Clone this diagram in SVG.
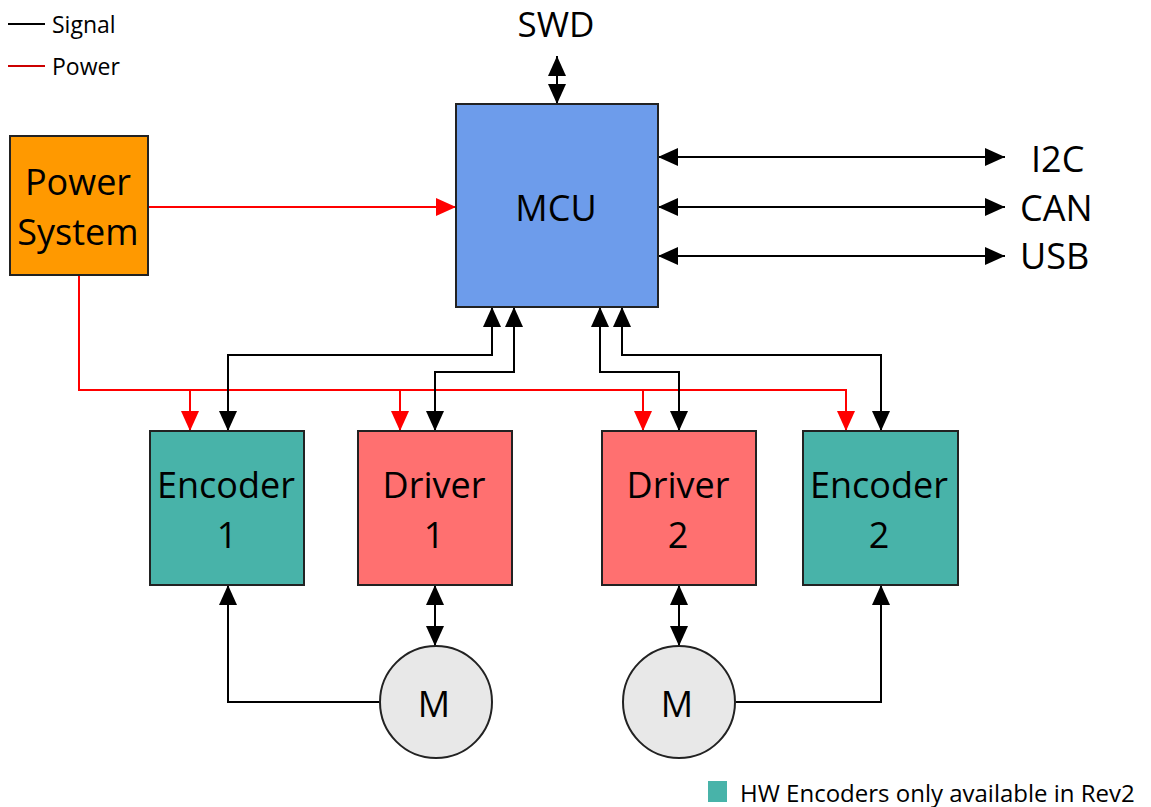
<svg xmlns="http://www.w3.org/2000/svg" width="1151" height="807" viewBox="0 0 1151 807">
<style>
text{font-family:"Open Sans","DejaVu Sans",sans-serif;fill:#000}
.lbl{font-size:36px;text-anchor:middle}
.port{font-size:36px}
.box{stroke:#222;stroke-width:2}
.sig{fill:none;stroke:#000;stroke-width:2}
.pwr{fill:none;stroke:#f00;stroke-width:2}
</style>
<defs>
<marker id="ab" markerUnits="userSpaceOnUse" markerWidth="20" markerHeight="18" refX="20" refY="9" orient="auto-start-reverse"><path d="M0,0 L20,9 L0,18 z" fill="#000"/></marker>
<marker id="ar" markerUnits="userSpaceOnUse" markerWidth="20" markerHeight="18" refX="20" refY="9" orient="auto-start-reverse"><path d="M0,0 L20,9 L0,18 z" fill="#f00"/></marker>
</defs>
<rect width="1151" height="807" fill="#fff"/>
<g id="legend">
<line x1="8" y1="24" x2="45" y2="24" stroke="#000" stroke-width="2"/>
<text x="52" y="33" font-size="23">Signal</text>
<line x1="8" y1="66" x2="45" y2="66" stroke="#c00" stroke-width="2"/>
<text x="52" y="75" font-size="23">Power</text>
</g>
<g id="connectors">
<path class="pwr" d="M148,207 H456" marker-end="url(#ar)"/>
<path class="pwr" d="M79,275 V390 H846 V431" marker-end="url(#ar)"/>
<path class="pwr" d="M190,390 V431" marker-end="url(#ar)"/>
<path class="pwr" d="M400,390 V431" marker-end="url(#ar)"/>
<path class="pwr" d="M643,390 V431" marker-end="url(#ar)"/>
<path class="sig" d="M557,56 V104" marker-start="url(#ab)" marker-end="url(#ab)"/>
<path class="sig" d="M658,157 H1005" marker-start="url(#ab)" marker-end="url(#ab)"/>
<path class="sig" d="M658,207 H1005" marker-start="url(#ab)" marker-end="url(#ab)"/>
<path class="sig" d="M658,256 H1005" marker-start="url(#ab)" marker-end="url(#ab)"/>
<path class="sig" d="M492,307 V355 H228 V431" marker-start="url(#ab)" marker-end="url(#ab)"/>
<path class="sig" d="M514,307 V372 H435 V431" marker-start="url(#ab)" marker-end="url(#ab)"/>
<path class="sig" d="M600,307 V372 H679 V431" marker-start="url(#ab)" marker-end="url(#ab)"/>
<path class="sig" d="M622,307 V355 H881 V431" marker-start="url(#ab)" marker-end="url(#ab)"/>
<path class="sig" d="M380,702 H228 V585" marker-end="url(#ab)"/>
<path class="sig" d="M435,585 V646" marker-start="url(#ab)" marker-end="url(#ab)"/>
<path class="sig" d="M679,585 V646" marker-start="url(#ab)" marker-end="url(#ab)"/>
<path class="sig" d="M736,702 H881 V585" marker-end="url(#ab)"/>
</g>
<g id="swd"><text class="lbl" x="556" y="37" style="font-size:35px">SWD</text></g>
<g id="i2c"><text class="port" x="1031" y="172">I2C</text></g>
<g id="can"><text class="port" x="1020" y="221">CAN</text></g>
<g id="usb"><text class="port" x="1020" y="269">USB</text></g>
<g id="mcu"><rect class="box" x="456" y="104" width="202" height="203" fill="#6d9ceb"/><text class="lbl" x="556" y="221">MCU</text></g>
<g id="power"><rect class="box" x="10" y="136" width="138" height="139" fill="#ff9900"/><text class="lbl" x="78" y="195">Power</text><text class="lbl" x="78" y="245">System</text></g>
<g id="encoder1"><rect class="box" x="150" y="431" width="154" height="154" fill="#48b3a9"/><text class="lbl" x="226" y="498">Encoder</text><text class="lbl" x="227" y="548">1</text></g>
<g id="driver1"><rect class="box" x="358" y="431" width="154" height="154" fill="#ff7070"/><text class="lbl" x="434" y="498">Driver</text><text class="lbl" x="434" y="548">1</text></g>
<g id="driver2"><rect class="box" x="602" y="431" width="154" height="154" fill="#ff7070"/><text class="lbl" x="678" y="498">Driver</text><text class="lbl" x="678" y="548">2</text></g>
<g id="encoder2"><rect class="box" x="803" y="431" width="155" height="154" fill="#48b3a9"/><text class="lbl" x="879" y="498">Encoder</text><text class="lbl" x="879" y="548">2</text></g>
<g id="motor1"><circle class="box" cx="436" cy="702" r="56" fill="#e8e8e8"/><text class="lbl" x="434" y="717">M</text></g>
<g id="motor2"><circle class="box" cx="679" cy="702" r="56" fill="#e8e8e8"/><text class="lbl" x="677" y="717">M</text></g>
<g id="note"><rect x="708" y="781" width="19" height="21" fill="#48b3a9"/><text x="740" y="802" font-size="24">HW Encoders only available in Rev2</text></g>
</svg>
